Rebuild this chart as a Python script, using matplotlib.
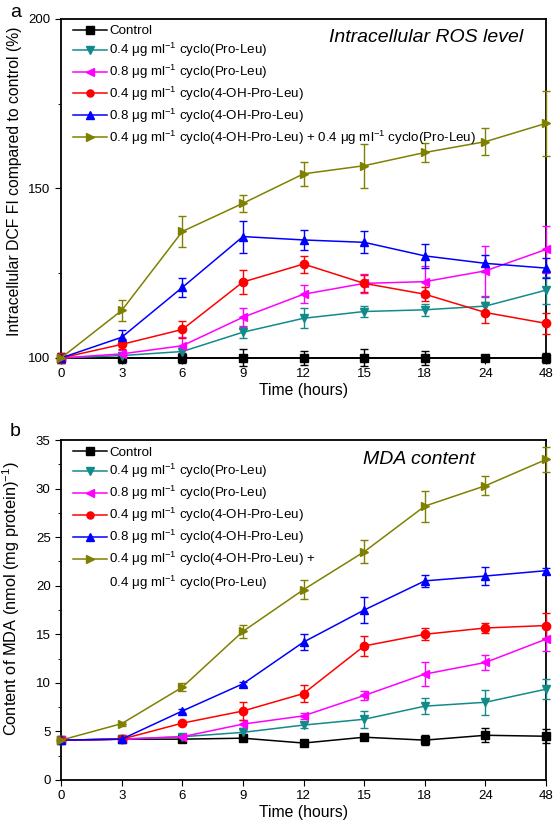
import numpy as np
import matplotlib.pyplot as plt
from matplotlib.ticker import MultipleLocator

plt.rcParams['font.family'] = ['Liberation Sans', 'DejaVu Sans']
plt.rcParams['mathtext.fontset'] = 'custom'
plt.rcParams['mathtext.rm'] = 'Liberation Sans'

# ── Data ─────────────────────────────────────────────────────────
time_labels = ["0", "3", "6", "9", "12", "15", "18", "24", "48"]

# Panel a: intracellular DCF fluorescence (% of control)
ros_control = [100, 100, 100, 100, 100, 100, 100, 100, 100]
ros_control_err = [1.5, 1.5, 1.5, 2.5, 2.0, 2.5, 2.0, 1.0, 1.5]
ros_pl04 = [100, 100.7, 101.9, 107.6, 111.7, 113.7, 114.2, 115.3, 120.0]
ros_pl04_err = [0.5, 0.5, 1.0, 1.6, 3.0, 1.7, 1.8, 2.7, 4.0]
ros_pl08 = [100, 101.2, 103.6, 112.0, 118.8, 122.0, 122.5, 125.7, 132.0]
ros_pl08_err = [0.8, 1.0, 2.5, 2.6, 2.7, 2.8, 4.5, 7.4, 7.0]
ros_oh04 = [100, 104.0, 108.4, 122.4, 127.7, 122.0, 118.8, 113.4, 110.2]
ros_oh04_err = [1.5, 1.5, 2.5, 3.6, 2.5, 2.5, 2.0, 3.0, 3.2]
ros_oh08 = [100, 106.1, 120.8, 135.8, 134.8, 134.1, 130.1, 127.9, 126.5]
ros_oh08_err = [1.0, 2.2, 2.7, 4.7, 3.0, 3.2, 3.5, 2.5, 3.0]
ros_mix = [100, 114.0, 137.3, 145.6, 154.3, 156.7, 160.6, 163.8, 169.2]
ros_mix_err = [1.0, 3.0, 4.6, 2.5, 3.5, 6.5, 2.7, 3.9, 9.5]

# Panel b: MDA content (nmol (mg protein)^-1)
mda_control = [4.1, 4.2, 4.2, 4.3, 3.8, 4.4, 4.1, 4.6, 4.5]
mda_control_err = [0.2, 0.2, 0.2, 0.2, 0.2, 0.2, 0.5, 0.7, 0.7]
mda_pl04 = [4.1, 4.2, 4.45, 4.9, 5.65, 6.25, 7.6, 8.0, 9.35]
mda_pl04_err = [0.2, 0.2, 0.2, 0.2, 0.3, 0.9, 0.85, 1.3, 1.0]
mda_pl08 = [4.1, 4.2, 4.45, 5.75, 6.6, 8.7, 10.9, 12.1, 14.5]
mda_pl08_err = [0.2, 0.2, 0.2, 0.4, 0.3, 0.5, 1.2, 0.8, 1.2]
mda_oh04 = [4.1, 4.2, 5.85, 7.1, 8.9, 13.8, 15.0, 15.65, 15.9]
mda_oh04_err = [0.2, 0.2, 0.2, 0.9, 0.85, 1.0, 0.6, 0.5, 1.3]
mda_oh08 = [4.1, 4.2, 7.1, 9.9, 14.2, 17.5, 20.5, 21.0, 21.55]
mda_oh08_err = [0.2, 0.2, 0.2, 0.2, 0.8, 1.3, 0.6, 0.9, 0.3]
mda_mix = [4.1, 5.8, 9.55, 15.3, 19.6, 23.5, 28.2, 30.3, 33.0]
mda_mix_err = [0.2, 0.2, 0.4, 0.7, 1.0, 1.2, 1.6, 1.0, 1.3]

LBL_PL04 = r"0.4 μg ml$^{-1}$ cyclo(Pro-Leu)"
LBL_PL08 = r"0.8 μg ml$^{-1}$ cyclo(Pro-Leu)"
LBL_OH04 = r"0.4 μg ml$^{-1}$ cyclo(4-OH-Pro-Leu)"
LBL_OH08 = r"0.8 μg ml$^{-1}$ cyclo(4-OH-Pro-Leu)"

STYLES = [
    ("Control", "black", "s"),
    (LBL_PL04, "#138a8a", "v"),
    (LBL_PL08, "#ff00ff", "<"),
    (LBL_OH04, "#ff0000", "o"),
    (LBL_OH08, "#0000ff", "^"),
    (None, "#808000", ">"),
]

x = np.arange(len(time_labels))


def draw_panel(ax, series, errs, mix_label):
    for (label, color, marker), y, e in zip(STYLES, series, errs):
        ax.errorbar(x, y, yerr=e, color=color, marker=marker, markersize=6,
                    linewidth=1.1, elinewidth=1.0, capsize=2.8, capthick=1.0,
                    label=label if label else mix_label, clip_on=False,
                    zorder=3)
    ax.set_xlim(0, 8)
    ax.set_xticks(x)
    ax.set_xticklabels(time_labels)
    ax.set_xlabel("Time (hours)", fontsize=11.3, labelpad=2)
    ax.tick_params(axis="both", which="both", direction="out", labelsize=9.5,
                   top=False, right=False)
    ax.tick_params(which="major", length=4)
    ax.tick_params(which="minor", length=2.5)
    for sp in ax.spines.values():
        sp.set_linewidth(1.3)
    handles, labels = ax.get_legend_handles_labels()
    handles = [h[0] for h in handles]
    leg = ax.legend(handles, labels, loc="upper left", frameon=False, fontsize=9.6,
                    handlelength=2.5, handletextpad=0.2, labelspacing=0.28,
                    borderpad=0.0, borderaxespad=0.0,
                    bbox_to_anchor=(0.025, 0.982), markerscale=0.85)
    return leg


fig = plt.figure(figsize=(5.55, 8.21), dpi=100)

# ── Panel a ──────────────────────────────────────────────────────
ax1 = fig.add_axes([0.110, 0.564, 0.874, 0.413])
draw_panel(ax1,
           [ros_control, ros_pl04, ros_pl08, ros_oh04, ros_oh08, ros_mix],
           [ros_control_err, ros_pl04_err, ros_pl08_err, ros_oh04_err, ros_oh08_err, ros_mix_err],
           LBL_OH04 + " + " + r"0.4 μg ml$^{-1}$ cyclo(Pro-Leu)")
ax1.set_ylim(100, 200)
ax1.yaxis.set_major_locator(MultipleLocator(50))
ax1.yaxis.set_minor_locator(MultipleLocator(25))
ax1.set_ylabel("Intracellular DCF FI compared to control (%)", fontsize=11.3)
ax1.yaxis.set_label_coords(-0.080, 0.52)
ax1.text(0.953, 0.944, "Intracellular ROS level", transform=ax1.transAxes,
         ha="right", va="center", fontsize=14, style="italic")
fig.text(0.018, 0.985, "a", fontsize=14, va="center")

# ── Panel b ──────────────────────────────────────────────────────
ax2 = fig.add_axes([0.110, 0.050, 0.874, 0.414])
leg2 = draw_panel(ax2,
                  [mda_control, mda_pl04, mda_pl08, mda_oh04, mda_oh08, mda_mix],
                  [mda_control_err, mda_pl04_err, mda_pl08_err, mda_oh04_err, mda_oh08_err, mda_mix_err],
                  LBL_OH04 + " +")
ax2.set_ylim(0, 35)
ax2.yaxis.set_major_locator(MultipleLocator(5))
ax2.yaxis.set_minor_locator(MultipleLocator(2.5))
ax2.set_ylabel(r"Content of MDA (nmol (mg protein)$^{-1}$)", fontsize=11.8)
ax2.yaxis.set_label_coords(-0.080, 0.535)
ax2.text(0.854, 0.944, "MDA content", transform=ax2.transAxes,
         ha="right", va="center", fontsize=14, style="italic")
fig.text(0.018, 0.474, "b", fontsize=14, va="center")

# second line of the last legend entry, placed under the first line
fig.canvas.draw()
bb = leg2.get_texts()[-1].get_window_extent()
x0, y0 = ax2.transAxes.inverted().transform((bb.x0, bb.y0))
ax2.text(x0, y0 - 0.016, r"0.4 μg ml$^{-1}$ cyclo(Pro-Leu)", transform=ax2.transAxes,
         ha="left", va="top", fontsize=9.6)

fig.savefig("out.png", dpi=100)
